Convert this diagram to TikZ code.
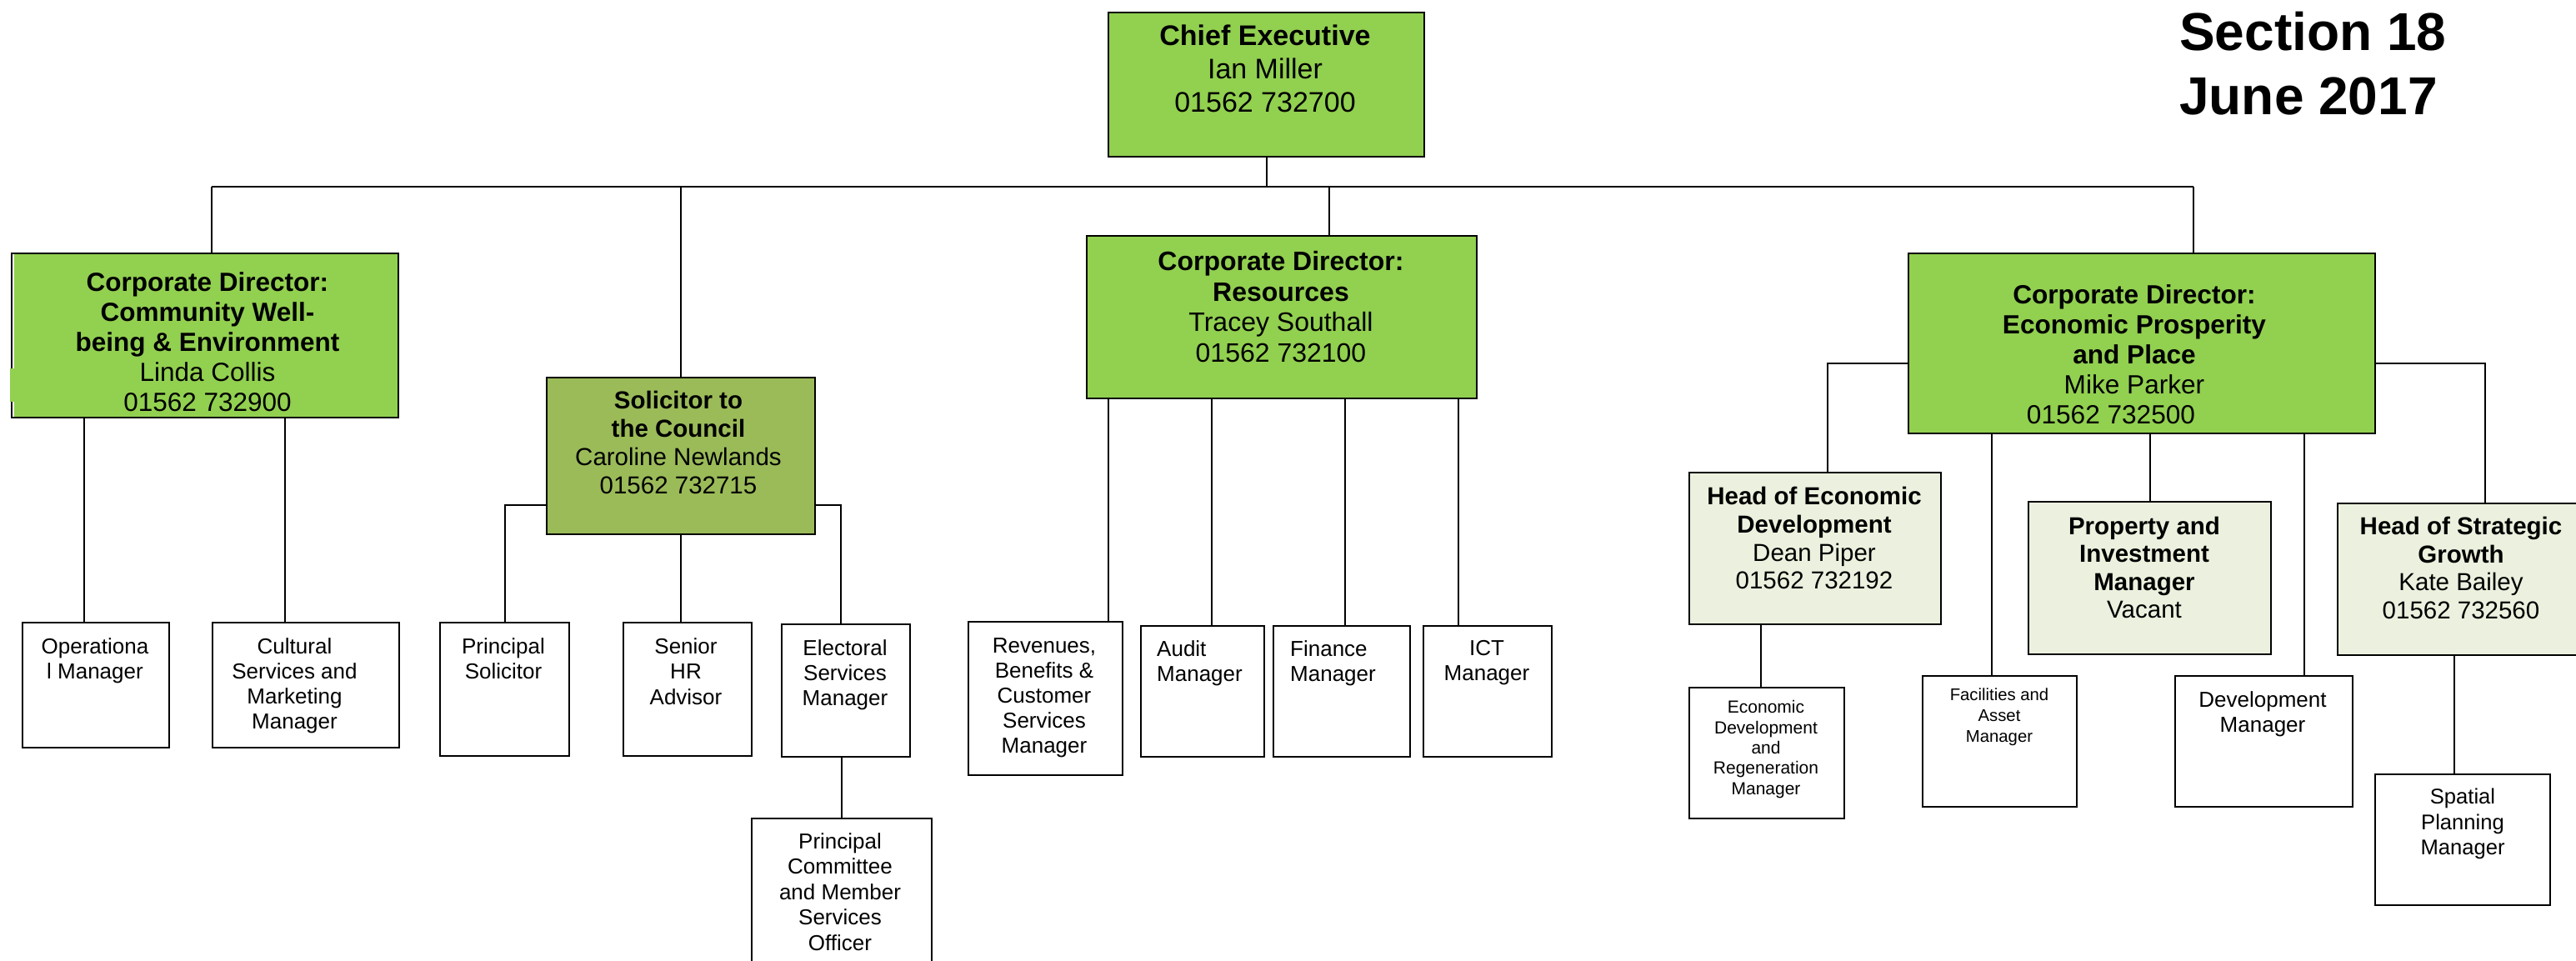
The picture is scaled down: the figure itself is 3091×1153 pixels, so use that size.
\documentclass[tikz,border=0pt]{standalone}
\usepackage{fontspec}
\setmainfont{Liberation Sans}
\usetikzlibrary{calc}
\definecolor{mgreen}{HTML}{92D050}
\definecolor{ogreen}{HTML}{9BBB59}
\definecolor{lgreen}{HTML}{EBF1DE}
\newcommand\orgfs[2]{\fontsize{#1}{#2}\selectfont}
\pgfdeclarelayer{background}
\pgfsetlayers{background,main}
\begin{document}
\begin{tikzpicture}[x=1pt,y=-1pt,
  orgbox/.style={draw=black, line width=2.3pt, inner sep=0pt, anchor=north west},
  lbl/.style={align=center, inner sep=0pt, anchor=north},
  lbll/.style={align=left, inner sep=0pt, anchor=north west},
  conn/.style={draw=black, line width=1.8pt},
]
\useasboundingbox (0,0) rectangle (3091,1153);

% ---------- boxes ----------
\node[orgbox, fill=mgreen, minimum width=379pt, minimum height=173pt] (ce) at (1329,14) {};
\node[orgbox, fill=mgreen, minimum width=464pt, minimum height=197pt] (cw) at (13,303) {};
\node[orgbox, fill=ogreen, minimum width=322pt, minimum height=188pt] (sc) at (655,452) {};
\node[orgbox, fill=mgreen, minimum width=468pt, minimum height=195pt] (rs) at (1303,282) {};
\node[orgbox, fill=mgreen, minimum width=560pt, minimum height=216pt] (ep) at (2289,303) {};
\node[orgbox, fill=lgreen, minimum width=302pt, minimum height=182pt] (hed) at (2026,566) {};
\node[orgbox, fill=lgreen, minimum width=291pt, minimum height=183pt] (pim) at (2433,601) {};
\node[orgbox, fill=lgreen, minimum width=300pt, minimum height=182pt] (hsg) at (2804,603) {};
\node[orgbox, minimum width=186pt, minimum height=157pt] (edr) at (2026,824) {};
\node[orgbox, minimum width=185pt, minimum height=157pt] (fam) at (2306,810) {};
\node[orgbox, minimum width=213pt, minimum height=157pt] (dm) at (2609,810) {};
\node[orgbox, minimum width=210pt, minimum height=157pt] (spm) at (2849,928) {};
\node[orgbox, minimum width=176pt, minimum height=150pt] (om) at (26,746) {};
\node[orgbox, minimum width=224pt, minimum height=150pt] (csm) at (254,746) {};
\node[orgbox, minimum width=155pt, minimum height=160pt] (ps) at (527,746) {};
\node[orgbox, minimum width=154pt, minimum height=160pt] (shr) at (747,746) {};
\node[orgbox, minimum width=154pt, minimum height=159pt] (es) at (937,748) {};
\node[orgbox, minimum width=216pt, minimum height=190pt] (pcm) at (901,981) {};
\node[orgbox, minimum width=185pt, minimum height=184pt] (rbc) at (1161,745) {};
\node[orgbox, minimum width=148pt, minimum height=157pt] (aud) at (1368,750) {};
\node[orgbox, minimum width=164pt, minimum height=157pt] (fin) at (1527,750) {};
\node[orgbox, minimum width=154pt, minimum height=157pt] (ict) at (1707,750) {};

% small rendering artefact on the left edge of the community box
\fill[white] ($(cw.north west)+(2.2,2)$) rectangle ($(cw.south west)+(3.8,-2)$);
\fill[mgreen] ($(cw.north west)+(-1.5,139)$) rectangle ($(cw.north west)+(4,179)$);

% ---------- texts ----------
\node[lbl, font=\orgfs{34}{40}] (ce-t) at (1518,30) {\textbf{Chief Executive}\\Ian Miller\\01562 732700};
\node[lbl, font=\orgfs{31.5}{36.2}] (cw-t) at (249,326) {\textbf{Corporate Director:}\\\textbf{Community Well-}\\\textbf{being \& Environment}\\Linda Collis\\01562 732900};
\node[lbl, font=\orgfs{29.5}{34}] (sc-t) at (814,469) {\textbf{Solicitor to}\\\textbf{the Council}\\Caroline Newlands\\01562 732715};
\node[lbl, font=\orgfs{32}{36.5}] (rs-t) at (1537,301.5) {\textbf{Corporate Director:}\\\textbf{Resources}\\Tracey Southall\\01562 732100};
\node[lbl, font=\orgfs{31.6}{36.2}] (ep-t) at (2561,341) {\textbf{Corporate Director:}\\\textbf{Economic Prosperity}\\\textbf{and Place}\\Mike Parker\\01562 732500\hspace*{56pt}};
\node[lbl, font=\orgfs{29.5}{33.8}] (hed-t) at (2177,584) {\textbf{Head of Economic}\\\textbf{Development}\\Dean Piper\\01562 732192};
\node[lbl, font=\orgfs{29.5}{33.3}] (pim-t) at (2573,620) {\textbf{Property and}\\\textbf{Investment}\\\textbf{Manager}\\Vacant};
\node[lbl, font=\orgfs{29.5}{33.7}] (hsg-t) at (2953,620) {\textbf{Head of Strategic}\\\textbf{Growth}\\Kate Bailey\\01562 732560};
\node[lbl, font=\orgfs{21}{24.3}] (edr-t) at (2119,840.5) {Economic\\Development\\and\\Regeneration\\Manager};
\node[lbl, font=\orgfs{20.3}{25}] (fam-t) at (2399,826) {Facilities and\\Asset\\Manager};
\node[lbl, font=\orgfs{26}{30}] (dm-t) at (2715,829) {Development\\Manager};
\node[lbl, font=\orgfs{25.6}{30.5}] (spm-t) at (2955,946) {Spatial\\Planning\\Manager};
\node[lbl, font=\orgfs{26}{30}] (om-t) at (114,765) {Operationa\\l Manager};
\node[lbl, font=\orgfs{26}{30.3}] (csm-t) at (353.5,765) {Cultural\\Services and\\Marketing\\Manager};
\node[lbl, font=\orgfs{26}{30}] (ps-t) at (604,765) {Principal\\Solicitor};
\node[lbl, font=\orgfs{26}{30.5}] (shr-t) at (823,765) {Senior\\HR\\Advisor};
\node[lbl, font=\orgfs{26}{30}] (es-t) at (1014,767) {Electoral\\Services\\Manager};
\node[lbl, font=\orgfs{26}{30.5}] (pcm-t) at (1008,999) {Principal\\Committee\\and Member\\Services\\Officer};
\node[lbl, font=\orgfs{26}{30}] (rbc-t) at (1253,765) {Revenues,\\Benefits \&\\Customer\\Services\\Manager};
\node[lbll, font=\orgfs{26}{30}] (aud-t) at (1388,768) {Audit\\Manager};
\node[lbll, font=\orgfs{26}{30}] (fin-t) at (1548,768) {Finance\\Manager};
\node[lbl, font=\orgfs{26}{30}] (ict-t) at (1784,768) {ICT\\Manager};
\node[lbll, font=\orgfs{64}{77}\bfseries] (title) at (2615,14) {Section 18\\June 2017};

% ---------- connectors ----------
\begin{pgfonlayer}{background}
\coordinate (barL) at (254,224);
\coordinate (barR) at (2632,224);
\draw[conn] (barL) -- (barR);
\draw[conn] (ce.south) -- (ce.south |- barL);
\draw[conn] (barL) -- ($(cw.north west)+(241,0)$);
\draw[conn] (sc.north) -- (sc.north |- barL);
\coordinate (rsT) at ($(rs.north west)+(292,0)$);
\draw[conn] (rsT) -- (rsT |- barL);
\draw[conn] (barR) -- (barR |- ep.north);
% economic prosperity
\coordinate (epL) at (2193,436);
\coordinate (epR) at (2982,436);
\draw[conn] (hed.north -| epL) -- (epL) -- (epR) -- (epR |- hsg.north);
\coordinate (famT) at ($(fam.north west)+(84,0)$);
\draw[conn] (famT) -- (famT |- ep.south);
\draw[conn] (pim.north) -- (pim.north |- ep.south);
\coordinate (dmT) at ($(dm.north west)+(156,0)$);
\draw[conn] (dmT) -- (dmT |- ep.south);
\coordinate (edrT) at ($(edr.north west)+(87,0)$);
\draw[conn] (edrT) -- (edrT |- hed.south);
\coordinate (spmT) at ($(spm.north west)+(96,0)$);
\draw[conn] (spmT) -- (spmT |- hsg.south);
% solicitor
\coordinate (scL) at (606,606);
\coordinate (scR) at (1009,606);
\draw[conn] (ps.north -| scL) -- (scL) -- (scR) -- (scR |- es.north);
\draw[conn] (sc.south) -- (sc.south |- shr.north);
\draw[conn] (pcm.north) -- (pcm.north |- es.south);
% community
\coordinate (omT) at ($(om.north west)+(75,0)$);
\draw[conn] (omT) -- (omT |- cw.south);
\coordinate (csmT) at ($(csm.north west)+(88,0)$);
\draw[conn] (csmT) -- (csmT |- cw.south);
% resources
\coordinate (rbcT) at ($(rbc.north west)+(169,0)$);
\draw[conn] (rbcT) -- (rbcT |- rs.south);
\coordinate (audT) at ($(aud.north west)+(86,0)$);
\draw[conn] (audT) -- (audT |- rs.south);
\coordinate (finT) at ($(fin.north west)+(87,0)$);
\draw[conn] (finT) -- (finT |- rs.south);
\coordinate (ictT) at ($(ict.north west)+(43,0)$);
\draw[conn] (ictT) -- (ictT |- rs.south);
\end{pgfonlayer}
\end{tikzpicture}
\end{document}
